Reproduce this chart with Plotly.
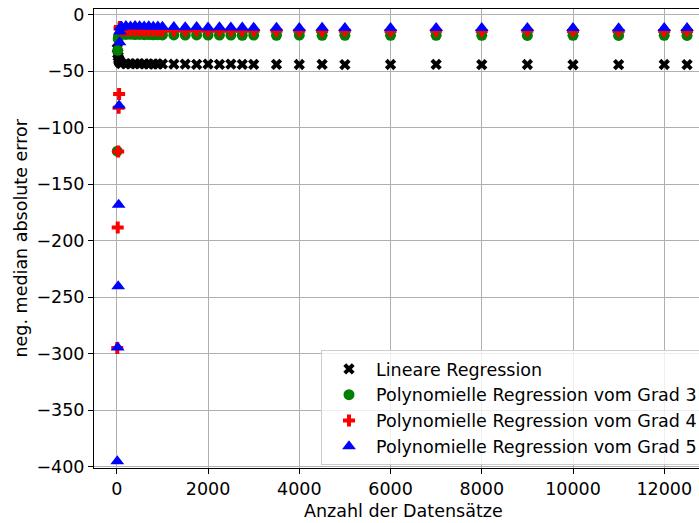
import plotly.graph_objects as go

# Number of training samples
x_vals = [10, 20, 30, 40, 50, 60, 70, 80, 90,
          100, 200, 300, 400, 500, 600, 700, 800, 900, 1000,
          1250, 1500, 1750, 2000, 2250, 2500, 2750, 3000,
          3500, 4000, 4500, 5000, 6000, 7000, 8000, 9000, 10000, 11000, 12000, 12500]

# Negative median absolute error per model
linear = [-30.2, -34.5, -37.1, -39.4, -40.8, -41.7, -42.3, -42.8, -43.0,
          -43.2, -43.5, -43.6, -43.4, -43.7, -43.5, -43.8, -43.6, -43.9, -43.7,
          -43.8, -43.9, -44.0, -43.8, -44.1, -43.9, -44.0, -44.1,
          -44.0, -44.2, -44.1, -44.3, -44.2, -44.1, -44.3, -44.2, -44.4, -44.3, -44.2, -44.3]

poly3 = [-120.8, -31.6, -21.5, -19.2, -18.4, -18.0, -17.8, -17.6, -17.5,
         -17.4, -17.6, -17.5, -17.7, -17.6, -17.8, -17.7, -17.9, -17.8, -18.0,
         -18.0, -18.1, -18.0, -18.2, -18.1, -18.2, -18.3, -18.2,
         -18.3, -18.2, -18.4, -18.3, -18.4, -18.3, -18.4, -18.5, -18.4, -18.5, -18.4, -18.5]

poly4 = [-294.8, -188.3, -121.2, -82.5, -70.3, -12.0, -11.0, -11.5, -12.2,
         -13.8, -14.0, -13.9, -14.1, -14.0, -14.2, -14.1, -14.2, -14.0, -14.3,
         -14.2, -14.3, -14.2, -14.4, -14.3, -14.4, -14.3, -14.4,
         -14.4, -14.3, -14.5, -14.4, -14.5, -14.4, -14.5, -14.4, -14.5, -14.6, -14.5, -14.5]

poly5 = [-395.0, -294.5, -240.2, -168.1, -80.5, -24.5, -15.0, -11.5, -11.0,
         -10.8, -10.2, -10.5, -10.1, -10.4, -10.6, -10.3, -10.7, -10.5, -10.9,
         -11.0, -11.2, -11.1, -11.4, -11.3, -11.5, -11.4, -11.6,
         -11.7, -11.8, -11.7, -11.9, -11.8, -12.0, -11.9, -12.0, -11.9, -12.1, -12.0, -12.0]

x_ticks = [0, 2000, 4000, 6000, 8000, 10000, 12000]
y_ticks = [0, -50, -100, -150, -200, -250, -300, -350, -400]

series = [
    ("Lineare Regression", linear, "black", "x", 10),
    ("Polynomielle Regression vom Grad 3", poly3, "green", "circle", 11),
    ("Polynomielle Regression vom Grad 4", poly4, "red", "cross", 10),
    ("Polynomielle Regression vom Grad 5", poly5, "blue", "triangle-up", 12),
]

FONT = "DejaVu Sans"
FS = 17.5

fig = go.Figure()
for name, vals, color, symbol, size in series:
    fig.add_trace(go.Scatter(
        x=x_vals, y=vals, name=name, mode="markers",
        marker=dict(symbol=symbol, size=size, color=color, line=dict(width=0)),
    ))

axis_common = dict(
    showgrid=True, gridcolor="#b0b0b0", gridwidth=1,
    zeroline=False,
    showline=True, linecolor="black", linewidth=1,
    ticks="outside", ticklen=5, tickwidth=1, tickcolor="black",
    tickfont=dict(family=FONT, size=FS, color="black"),
)

fig.update_layout(
    width=699, height=523,
    margin=dict(l=94, r=0, t=9, b=55, autoexpand=False),
    paper_bgcolor="white", plot_bgcolor="white",
    font=dict(family=FONT, size=FS, color="black"),
    showlegend=True,
    legend=dict(
        x=(321 - 94) / 605, y=(468 - 350) / 459,
        xanchor="left", yanchor="top",
        bgcolor="rgba(255,255,255,0.8)", bordercolor="#cccccc", borderwidth=1,
        font=dict(family=FONT, size=FS, color="black"),
        itemwidth=44,
    ),
    xaxis=dict(range=[-500, 12762], tickvals=x_ticks,
               ticktext=[str(v) for v in x_ticks], mirror=True, **axis_common),
    yaxis=dict(range=[-401, 4.9], tickvals=y_ticks,
               ticktext=[str(v).replace("-", "\u2212") for v in y_ticks], **axis_common),
    annotations=[
        dict(text="Anzahl der Datensätze", xref="paper", yref="paper",
             x=(403 - 94) / 605, y=(468 - 511) / 459, xanchor="center", yanchor="middle",
             showarrow=False, font=dict(family=FONT, size=FS, color="black")),
        dict(text="neg. median absolute error", xref="paper", yref="paper",
             x=(20 - 94) / 605, y=0.5, xanchor="center", yanchor="middle", textangle=-90,
             showarrow=False, font=dict(family=FONT, size=FS, color="black")),
    ],
)

fig.write_html("out.html")
